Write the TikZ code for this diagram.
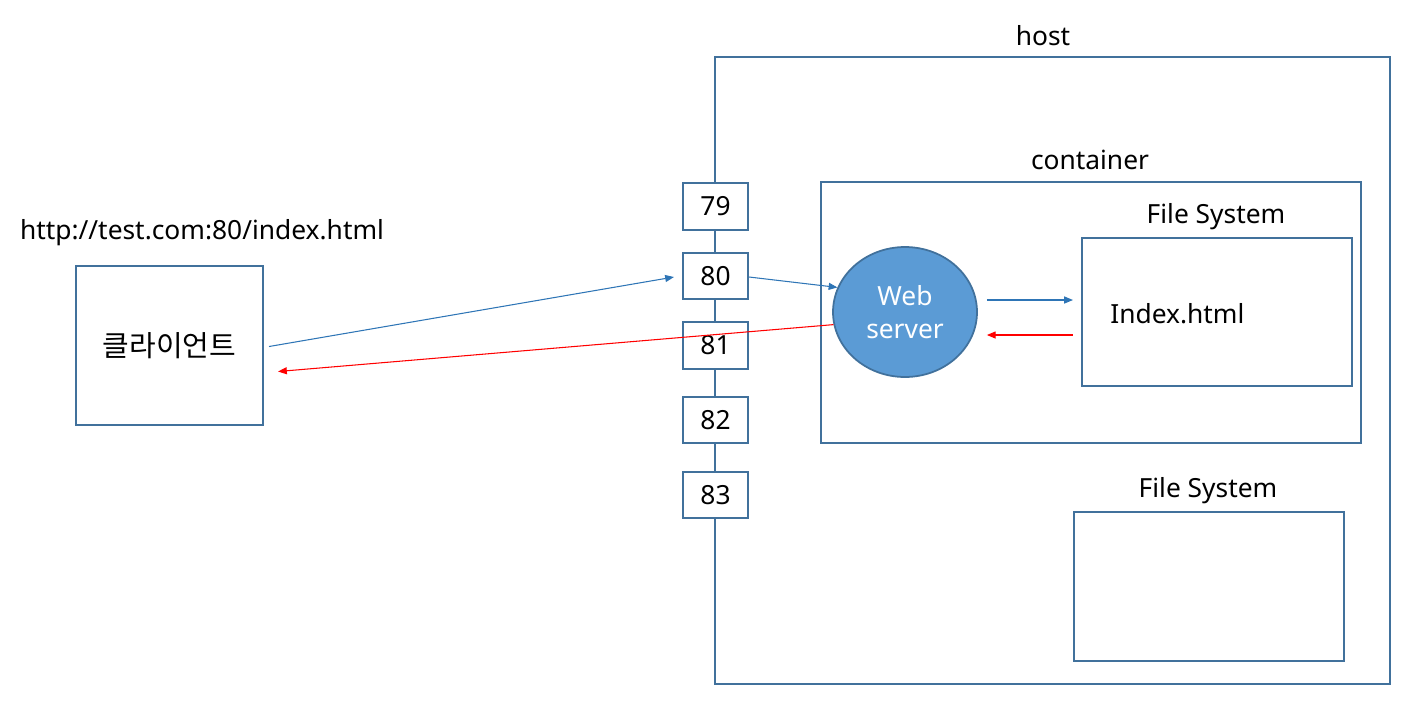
\documentclass[tikz,border=0pt]{standalone}
\usepackage{fontspec}
\setmainfont{Noto Sans}
\newfontfamily\krfont{Noto Sans CJK KR}
\usetikzlibrary{positioning,arrows.meta,shapes.geometric}
\definecolor{boxline}{HTML}{41719C}
\definecolor{flowblue}{HTML}{2E75B6}
\definecolor{srvfill}{HTML}{5B9BD5}
\tikzset{
  frame/.style={draw=boxline,line width=1.2pt,inner sep=0pt},
  port/.style={draw=boxline,line width=1.2pt,fill=white,minimum width=1.3cm,minimum height=0.93cm,inner sep=0pt},
  req/.style={draw=flowblue,line width=0.6pt,-{Triangle[length=5pt,width=4pt]}},
  resp/.style={draw=red,line width=0.6pt,-{Triangle[length=5pt,width=4pt]}},
  lbl/.style={inner sep=0pt},
}
\begin{document}
\begin{tikzpicture}[x=0.02cm,y=-0.02cm,font=\fontsize{15}{18}\selectfont]
  \useasboundingbox (0,0) rectangle (1426,708);
  % host and what runs in it
  \node[frame,minimum width=13.5cm,minimum height=12.54cm] (host) at (1052.5,370.5) {};
  \node[lbl] (hostlbl) at (1043,36) {host};
  \node[frame,minimum width=10.8cm,minimum height=5.22cm] (ctr) at (1091,312.5) {};
  \node[lbl] (ctrlbl) at (1090,160) {container};
  \node[frame,minimum width=5.4cm,minimum height=2.96cm] (fs1) at (1217,312) {};
  \node[lbl] (fs1lbl) at (1216,217) {File System};
  \node[lbl,anchor=west] (idx) at (1110,314) {Index.html};
  \node[frame,minimum width=5.4cm,minimum height=2.98cm] (fs2) at (1209,586.5) {};
  \node[lbl] (fs2lbl) at (1208,491) {File System};
  \node[ellipse,draw=boxline,line width=1pt,fill=srvfill,text=white,align=center,
        minimum width=2.88cm,minimum height=2.6cm,inner sep=0pt,
        font=\fontsize{15}{18.5}\selectfont] (srv) at (905,312) {Web\\server};
  % ports on the host edge
  \foreach \p/\y in {79/206.5,80/276,81/345.5,82/420,83/495}
    \node[port] (p\p) at (715.5,\y) {\p};
  % client
  \node[frame,minimum width=3.74cm,minimum height=3.18cm] (client) at (169.5,345.5) {};
  \node[lbl] (cltxt) at (client.center) {\krfont\fontsize{16.5}{19}\selectfont 클라이언트};
  \node[lbl] (url) at (202,233) {http://test.com:80/index.html};
  % request and response
  \draw[req] ([shift={(5,1)}]client.east) -- ([shift={(-8,1)}]p80.west);
  \draw[req] ([shift={(0,1)}]p80.east) -- (srv.160);
  \draw[req] ([shift={(9,-12)}]srv.east) -- ([shift={(-8,-12)}]fs1.west);
  \draw[resp] ([shift={(-8,23)}]fs1.west) -- ([shift={(9,23)}]srv.east);
  \draw[resp] (srv.190) -- ([shift={(14,26)}]client.east);
\end{tikzpicture}
\end{document}
